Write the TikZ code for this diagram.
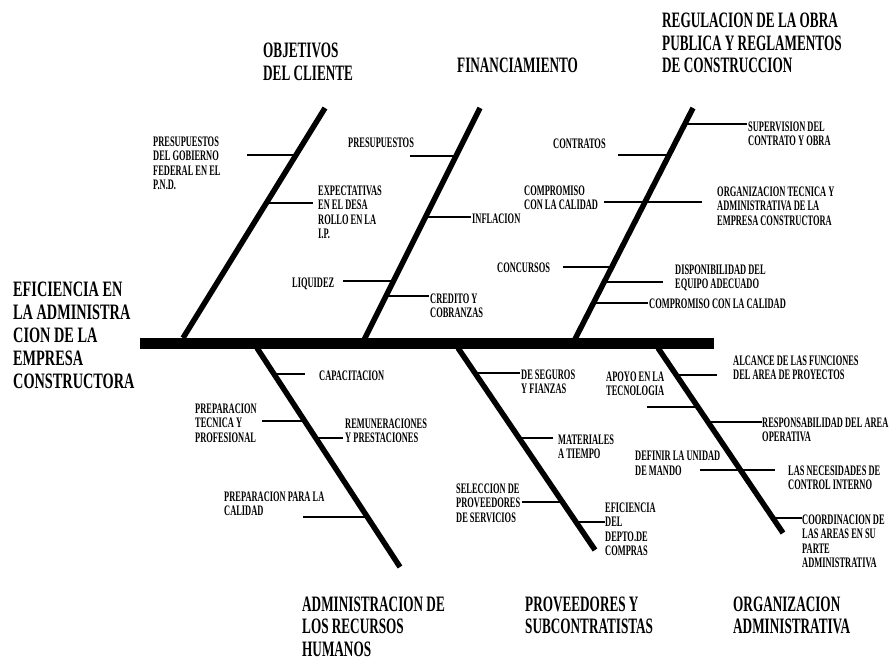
\documentclass[tikz,border=0pt]{standalone}
\usepackage{fontspec}
\setmainfont[FakeStretch=0.6]{Liberation Serif}
\newfontfamily\lblfont[FakeStretch=0.58]{Liberation Serif}
\newfontfamily\ttlfont[FakeStretch=0.65]{Liberation Serif}

\begin{document}
\begin{tikzpicture}[
    x=1pt, y=-1pt,
    spine/.style={line width=11pt},
    bone/.style={line width=5.5pt},
    twig/.style={line width=1.6pt},
    lbl/.style={anchor=north west, inner sep=0pt, align=left, yshift=4.8pt,
        font=\lblfont\bfseries\fontsize{14.5}{14.5}\selectfont},
    head/.style={anchor=north west, inner sep=0pt, align=left, yshift=7.3pt,
        font=\bfseries\fontsize{22}{22.5}\selectfont}
]

\useasboundingbox (0,0) rectangle (890,663);

% ================= Espina central =================

\coordinate (s0) at (140,343.5);
\coordinate (s1) at (714,343.5);
\draw[spine] (s0)--(s1);

\node[head, font=\ttlfont\bfseries\fontsize{22}{23}\selectfont] (efic) at (13,289.5)
    {EFICIENCIA EN\\LA ADMINISTRA\\CION DE LA\\EMPRESA\\CONSTRUCTORA};

% ================= Objetivos del cliente =================

\coordinate (o1b) at (183,338);
\coordinate (o1t) at (325,108);
\draw[bone] (o1b)--(o1t);

\node[head] (obj) at (263,50.5) {OBJETIVOS\\DEL CLIENTE};

\node[lbl] (gob) at (153,141) {PRESUPUESTOS\\DEL GOBIERNO\\FEDERAL EN EL\\P.N.D.};
\node[lbl] (expe) at (318,190) {EXPECTATIVAS\\EN EL DESA\\ROLLO EN LA\\I.P.};

\coordinate (gob1) at (247,155);   \coordinate (gob2) at (296,155);
\coordinate (expe1) at (266,203);  \coordinate (expe2) at (313,203);

\draw[twig] (gob1)--(gob2);
\draw[twig] (expe1)--(expe2);

% ================= Financiamiento =================

\coordinate (f2b) at (364,340);
\coordinate (f2t) at (480,108);
\draw[bone] (f2b)--(f2t);

\node[head] (fin) at (457,65) {FINANCIAMIENTO};

\node[lbl] (pres) at (348,142) {PRESUPUESTOS};
\node[lbl] (infl) at (472,218) {INFLACION};
\node[lbl] (liq)  at (292,282) {LIQUIDEZ};
\node[lbl] (cred) at (430,298) {CREDITO Y\\COBRANZAS};

\coordinate (pres1) at (410,156);  \coordinate (pres2) at (456,156);
\coordinate (infl1) at (425,217);  \coordinate (infl2) at (471,217);
\coordinate (liq1) at (343,281);   \coordinate (liq2) at (393,281);
\coordinate (cred1) at (386,296);  \coordinate (cred2) at (429,296);

\draw[twig] (pres1)--(pres2);
\draw[twig] (infl1)--(infl2);
\draw[twig] (liq1)--(liq2);
\draw[twig] (cred1)--(cred2);

% ================= Regulacion de la obra publica =================

\coordinate (r3b) at (572,345);
\coordinate (r3t) at (693,108);
\draw[bone] (r3b)--(r3t);

\node[head] (regu) at (662,20.5) {REGULACION DE LA OBRA\\PUBLICA Y REGLAMENTOS\\DE CONSTRUCCION};

\node[lbl] (supe) at (748,126) {SUPERVISION DEL\\CONTRATO Y OBRA};
\node[lbl] (cont) at (553,143) {CONTRATOS};
\node[lbl] (comp) at (524,190) {COMPROMISO\\CON LA CALIDAD};
\node[lbl] (orga) at (717,191) {ORGANIZACION TECNICA Y\\ADMINISTRATIVA DE LA\\EMPRESA CONSTRUCTORA};
\node[lbl] (conc) at (497,267) {CONCURSOS};
\node[lbl] (disp) at (675,269) {DISPONIBILIDAD DEL\\EQUIPO ADECUADO};
\node[lbl] (cali) at (649,303) {COMPROMISO CON LA CALIDAD};

\coordinate (supe1) at (684,124);  \coordinate (supe2) at (747,124);
\coordinate (cont1) at (618,155);  \coordinate (cont2) at (669,155);
\coordinate (comp1) at (604,202);  \coordinate (comp2) at (702,202);
\coordinate (conc1) at (563,267);  \coordinate (conc2) at (612,267);
\coordinate (disp1) at (604,282);  \coordinate (disp2) at (663,282);
\coordinate (cali1) at (593,303);  \coordinate (cali2) at (648,303);

\draw[twig] (supe1)--(supe2);
\draw[twig] (cont1)--(cont2);
\draw[twig] (comp1)--(comp2);
\draw[twig] (conc1)--(conc2);
\draw[twig] (disp1)--(disp2);
\draw[twig] (cali1)--(cali2);

% ================= Recursos humanos =================

\coordinate (h4t) at (257,348);
\coordinate (h4b) at (400,567);
\draw[bone] (h4t)--(h4b);

\node[head] (rrhh) at (302,604) {ADMINISTRACION DE\\LOS RECURSOS\\HUMANOS};

\node[lbl] (capa) at (319,375) {CAPACITACION};
\node[lbl] (prep) at (195,408) {PREPARACION\\TECNICA Y\\PROFESIONAL};
\node[lbl] (remu) at (345,423) {REMUNERACIONES\\Y PRESTACIONES};
\node[lbl] (pcal) at (224,496) {PREPARACION PARA LA\\CALIDAD};

\coordinate (capa1) at (274,374);  \coordinate (capa2) at (305,374);
\coordinate (prep1) at (262,421);  \coordinate (prep2) at (305,421);
\coordinate (remu1) at (316,438);  \coordinate (remu2) at (343,438);
\coordinate (pcal1) at (303,517);  \coordinate (pcal2) at (367,517);

\draw[twig] (capa1)--(capa2);
\draw[twig] (prep1)--(prep2);
\draw[twig] (remu1)--(remu2);
\draw[twig] (pcal1)--(pcal2);

% ================= Proveedores =================

\coordinate (p5t) at (458,348);
\coordinate (p5b) at (595,550);
\draw[bone] (p5t)--(p5b);

\node[head] (prov) at (525,604) {PROVEEDORES Y\\SUBCONTRATISTAS};

\node[lbl] (segu) at (521,374) {DE SEGUROS\\Y FIANZAS};
\node[lbl] (mate) at (558,439) {MATERIALES\\A TIEMPO};
\node[lbl] (sele) at (456,488) {SELECCION DE\\PROVEEDORES\\DE SERVICIOS};
\node[lbl] (efde) at (605,507) {EFICIENCIA\\DEL\\DEPTO.DE\\COMPRAS};

\coordinate (segu1) at (475,373);  \coordinate (segu2) at (520,373);
\coordinate (mate1) at (519,438);  \coordinate (mate2) at (553,438);
\coordinate (sele1) at (522,502);  \coordinate (sele2) at (562,502);
\coordinate (efde1) at (576,522);  \coordinate (efde2) at (605,522);

\draw[twig] (segu1)--(segu2);
\draw[twig] (mate1)--(mate2);
\draw[twig] (sele1)--(sele2);
\draw[twig] (efde1)--(efde2);

% ================= Organizacion administrativa =================

\coordinate (g6t) at (658,348);
\coordinate (g6b) at (783,533);
\draw[bone] (g6t)--(g6b);

\node[head] (orad) at (733,604) {ORGANIZACION\\ADMINISTRATIVA};

\node[lbl] (alca) at (733,360) {ALCANCE DE LAS FUNCIONES\\DEL AREA DE PROYECTOS};
\node[lbl] (apoy) at (606,376) {APOYO EN LA\\TECNOLOGIA};
\node[lbl] (resp) at (762,422) {RESPONSABILIDAD DEL AREA\\OPERATIVA};
\node[lbl] (defi) at (635,456) {DEFINIR LA UNIDAD\\DE MANDO};
\node[lbl] (nece) at (788,470) {LAS NECESIDADES DE\\CONTROL INTERNO};
\node[lbl] (coor) at (802,519) {COORDINACION DE\\LAS AREAS EN SU\\PARTE\\ADMINISTRATIVA};

\coordinate (alca1) at (676,375);  \coordinate (alca2) at (717,375);
\coordinate (apoy1) at (647,407);  \coordinate (apoy2) at (698,407);
\coordinate (resp1) at (708,422);  \coordinate (resp2) at (762,422);
\coordinate (defi1) at (700,470);  \coordinate (defi2) at (775,470);
\coordinate (coor1) at (773,518);  \coordinate (coor2) at (802,518);

\draw[twig] (alca1)--(alca2);
\draw[twig] (apoy1)--(apoy2);
\draw[twig] (resp1)--(resp2);
\draw[twig] (defi1)--(defi2);
\draw[twig] (coor1)--(coor2);

\end{tikzpicture}
\end{document}
